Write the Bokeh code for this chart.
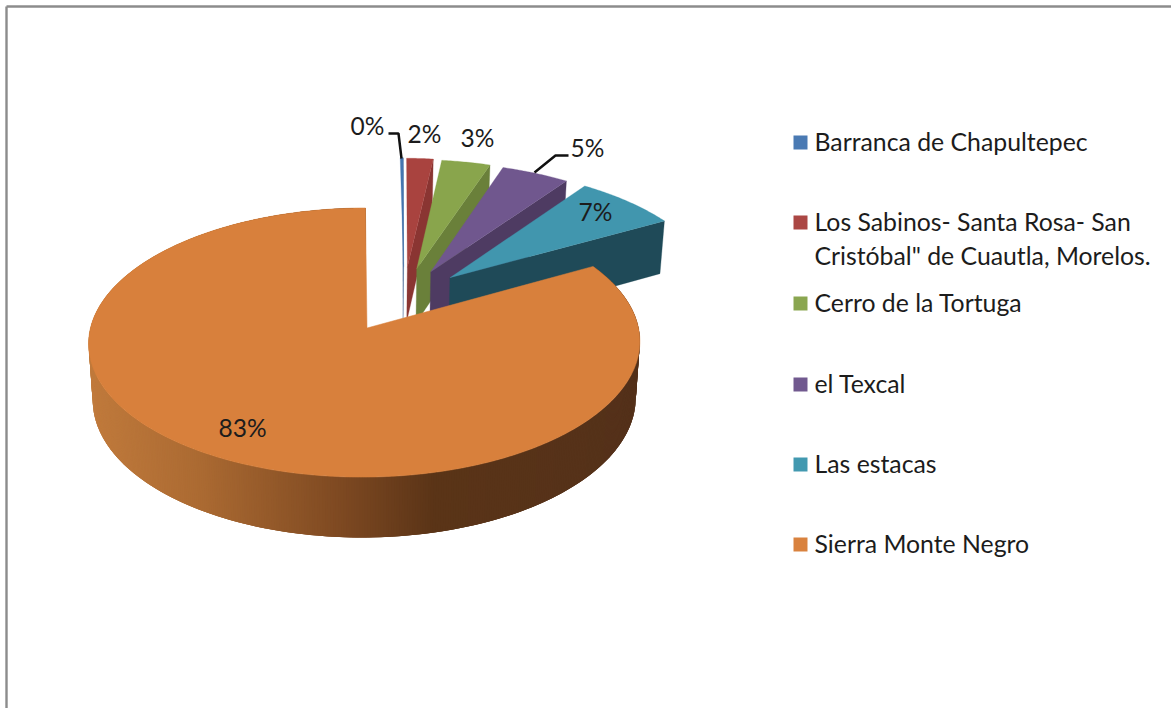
import math
from bokeh.plotting import figure
from bokeh.embed import file_html
from bokeh.resources import INLINE
from bokeh.core.properties import value

# ---- data ----
categories = ["Barranca de Chapultepec",
              "Los Sabinos- Santa Rosa- San\nCristóbal\" de Cuautla, Morelos.",
              "Cerro de la Tortuga", "el Texcal", "Las estacas", "Sierra Monte Negro"]
shares = [0.2, 1.8, 3.3, 4.6, 7.0, 83.0]

# ---- styles ----
top_colors = ["#4576b1", "#a9433f", "#89a54c", "#70578e", "#4196ae", "#d8803c"]
wall_colors = ["#35598a", "#8a3532", "#6a803a", "#4e3b62", "#1f4a58", "#54311a"]
legend_colors = ["#4a7ab3", "#ab4744", "#8aa650", "#71598f", "#4299b0", "#d9823e"]
gradient_stops = [(90, (0xc0, 0x7a, 0x3c)), (200, (0xab, 0x6a, 0x32)), (337, (0x7f, 0x4a, 0x22)),
                  (435, (0x5a, 0x34, 0x17)), (640, (0x54, 0x31, 0x1a))]

# ---- camera / layout of the 3D pie ----
XC, YC, A, B, K = 366.5, 327.5, 274.0, 133.0, 0.108
YB, SX, SY = 383.4, 0.985, 1.03
EXPLODE = 0.505
RIM_SHEAR = 2.5
label_layout = [(367, 125), (424, 133), (477, 137), (587, 147), (595, 211), (242, 427)]
legend_rows = [142, 222, 303, 384, 464, 544]
TEXT_LIFT = 1
leaders = [([388, 398, 401], [133, 133, 158]), ([534, 555, 568], [172, 155, 155])]
LINE_GAP = 34

def top(u, v):
    w = 1 + K * v
    return XC + A * u / w, YC - B * v / w

def bottom(u, v):
    w = 1 + K * v
    return XC + SX * A * u / w, YB - SY * B * v / w

def rim(t):
    r = math.radians(t)
    return math.sin(r), math.cos(r)

def big_top(u, v):
    x, y = top(u, v)
    return x - RIM_SHEAR * (1 - v), y

def big_bottom(u, v):
    x, y = bottom(u, v)
    return x - RIM_SHEAR * (1 - v), y

def ramp(x):
    if x <= gradient_stops[0][0]:
        c = gradient_stops[0][1]
    elif x >= gradient_stops[-1][0]:
        c = gradient_stops[-1][1]
    else:
        for (x0, c0), (x1, c1) in zip(gradient_stops, gradient_stops[1:]):
            if x0 <= x <= x1:
                f = (x - x0) / (x1 - x0)
                c = tuple(round(a + (b - a) * f) for a, b in zip(c0, c1))
                break
    return "#%02x%02x%02x" % tuple(c)

p = figure(width=1171, height=708, x_range=(0, 1171), y_range=(708, 0),
           output_backend="svg", toolbar_location=None,
           x_axis_location=None, y_axis_location=None,
           min_border=0, outline_line_color=None, background_fill_color="white")
p.grid.visible = False

p.line([6, 6], [708, 6], line_color="#8c8c8c", line_width=2.4)
p.line([6, 1171], [6, 6], line_color="#8c8c8c", line_width=2.4)

# angular spans
spans = []
acc = 0.0
for s in shares:
    spans.append((acc * 3.6, (acc + s) * 3.6))
    acc += s

# small exploded slices, back to front
for i in range(5):
    t0, t1 = spans[i]
    mid = (t0 + t1) / 2
    du, dv = rim(16 + 0.47 * mid)
    pu, pv = EXPLODE * du, EXPLODE * dv
    eu, ev = rim(t1)
    # radial wall on the trailing edge
    a = top(pu, pv); b = top(pu + eu, pv + ev)
    c = bottom(pu + eu, pv + ev); d = bottom(pu, pv)
    p.patch([a[0], b[0], c[0], d[0]], [a[1], b[1], c[1], d[1]],
            fill_color=wall_colors[i], line_color=wall_colors[i], line_width=0.3)
    # top face
    n = max(2, int(t1 - t0) * 2)
    xs, ys = [a[0]], [a[1]]
    for j in range(n + 1):
        ru, rv = rim(t0 + (t1 - t0) * j / n)
        x, y = top(pu + ru, pv + rv)
        xs.append(x); ys.append(y)
    p.patch(xs, ys, fill_color=top_colors[i], line_color=top_colors[i], line_width=0.3)

# large slice: wall with horizontal gradient (quads overlap the next one, so no seams)
t0, t1 = spans[5]
qx, qy, qc = [], [], []
steps = int((t1 - t0) * 2)
for j in range(steps):
    a0 = t0 + (t1 - t0) * j / steps
    a1 = t0 + (t1 - t0) * min(j + 3, steps) / steps
    u0, v0 = rim(a0); u1, v1 = rim(a1)
    p0 = big_top(u0, v0); p1 = big_top(u1, v1); p2 = big_bottom(u1, v1); p3 = big_bottom(u0, v0)
    qx.append([p0[0], p1[0], p2[0], p3[0]])
    qy.append([p0[1], p1[1], p2[1], p3[1]])
    qc.append(ramp(p0[0]))
p.patches(qx, qy, fill_color=qc, line_color=None)

xs, ys = [XC], [YC]
for j in range(steps + 1):
    u, v = rim(t0 + (t1 - t0) * j / steps)
    x, y = big_top(u, v)
    xs.append(x); ys.append(y)
p.patch(xs, ys, fill_color=top_colors[5], line_color=top_colors[5], line_width=0.5)

# data labels and leaders
for lx, ly in leaders:
    p.line(lx, ly, line_color="#111111", line_width=2.5)
p.text([q[0] for q in label_layout], [q[1] for q in label_layout],
       text=[f"{round(s)}%" for s in shares],
       text_font=value("Lato"), text_font_size="24.5px", text_color="#1c1c1c",
       text_align="center", text_baseline="middle")

# legend
p.scatter([800] * 6, legend_rows, marker="square", size=14,
          fill_color=legend_colors, line_color=None)
lx, ly, lt = [], [], []
for row, name in zip(legend_rows, categories):
    for k, part in enumerate(name.split("\n")):
        lx.append(814); ly.append(row - TEXT_LIFT + k * LINE_GAP); lt.append(part)
p.text(lx, ly, text=lt, text_font=value("Lato"), text_font_size="24.8px", text_color="#1c1c1c",
       text_align="left", text_baseline="middle")

open("out.html", "w").write(file_html(p, INLINE))
